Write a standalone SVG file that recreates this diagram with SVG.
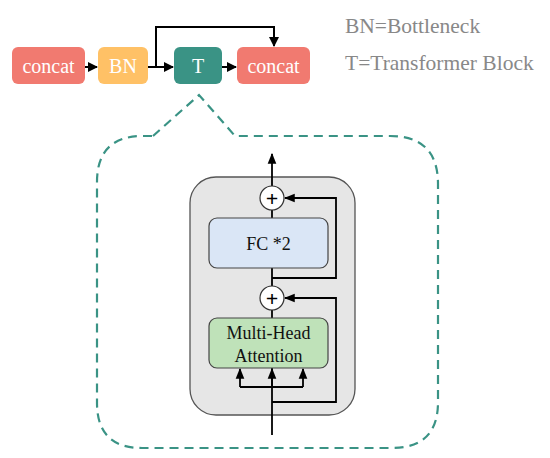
<svg xmlns="http://www.w3.org/2000/svg" width="550" height="458" viewBox="0 0 550 458">
<defs>
<marker id="ah" viewBox="0 0 10 10" refX="9" refY="5" markerWidth="5" markerHeight="5" orient="auto" markerUnits="strokeWidth"><path d="M0,0 L10,5 L0,10 z" fill="#000"/></marker>
<marker id="ahs" viewBox="0 0 10 10" refX="9" refY="5" markerWidth="6" markerHeight="6" orient="auto" markerUnits="strokeWidth"><path d="M0,1 L10,5 L0,9 z" fill="#000"/></marker>
</defs>
<style>
text{font-family:'Liberation Serif','Times New Roman',serif}
.node text{text-anchor:middle}
.top text{fill:#fff;font-size:20px}
.in text{fill:#111;font-size:18px}
.in text.plus{fill:#000;font-size:22px;font-weight:bold}
.leg{font-size:21.5px;fill:#888}
.c{fill:none;stroke:#000;stroke-width:2}
.ci{fill:none;stroke:#000;stroke-width:1.8}
</style>
<rect width="550" height="458" fill="#fff"/>
<text class="leg" x="345" y="33">BN=Bottleneck</text>
<text class="leg" x="345" y="70">T=Transformer Block</text>
<path d="M153,136 L199,95 L235,136 L390,136 Q438,136 438,184 L438,402 Q438,448 392,448 L142,448 Q97,448 97,403 L97,182 Q97,136 143,136 Z" fill="none" stroke="#3a9385" stroke-width="2.2" stroke-dasharray="9,6"/>
<g id="container" class="node"><rect x="190" y="177" width="165" height="238" rx="26" fill="#e6e6e6" stroke="#555" stroke-width="1.3"/></g>
<g id="concat1" class="node top"><rect x="12" y="47" width="73" height="37" rx="6" fill="#f17a70"/><text x="48.5" y="73">concat</text></g>
<g id="bn" class="node top"><rect x="98" y="47" width="50" height="37" rx="6" fill="#ffc166"/><text x="123" y="73">BN</text></g>
<g id="t" class="node top"><rect x="174" y="47" width="48" height="37" rx="6" fill="#3a9385"/><text x="198" y="73">T</text></g>
<g id="concat2" class="node top"><rect x="237" y="47" width="73" height="37" rx="6" fill="#f17a70"/><text x="273.5" y="73">concat</text></g>
<g id="connectors">
<path class="c" d="M85,67 L97,67" marker-end="url(#ah)"/>
<path class="c" d="M148,67 L173,67" marker-end="url(#ah)"/>
<path class="c" d="M222,67 L236,67" marker-end="url(#ah)"/>
<path class="c" d="M156,67 L156,27 L274,27 L274,46" marker-end="url(#ah)"/>
<path class="ci" d="M272,435 L272,154" marker-end="url(#ahs)"/>
<path class="ci" d="M272,278 L336,278 L336,198 L285,198" marker-end="url(#ahs)"/>
<path class="ci" d="M272,402 L336,402 L336,298 L285,298" marker-end="url(#ahs)"/>
<path class="ci" d="M240,387 L303,387"/>
<path class="ci" d="M240,387 L240,369" marker-end="url(#ahs)"/>
<path class="ci" d="M303,387 L303,369" marker-end="url(#ahs)"/>
<path class="ci" d="M272,387 L272,369" marker-end="url(#ahs)"/>
</g>
<g id="fc" class="node in"><rect x="209" y="218" width="119" height="50" rx="8" fill="#dae6f6" stroke="#444" stroke-width="1.2"/><text x="268.5" y="250">FC *2</text></g>
<g id="mha" class="node in"><rect x="209" y="318" width="119" height="50" rx="8" fill="#bfe2b9" stroke="#444" stroke-width="1.2"/><text x="268.5" y="339">Multi-Head</text><text x="268.5" y="362">Attention</text></g>
<g id="add1" class="node in"><circle cx="272" cy="198" r="12" fill="#fff" stroke="#333" stroke-width="1.2"/><text class="plus" x="272" y="205.5">+</text></g>
<g id="add2" class="node in"><circle cx="272" cy="298" r="12" fill="#fff" stroke="#333" stroke-width="1.2"/><text class="plus" x="272" y="305.5">+</text></g>
</svg>
